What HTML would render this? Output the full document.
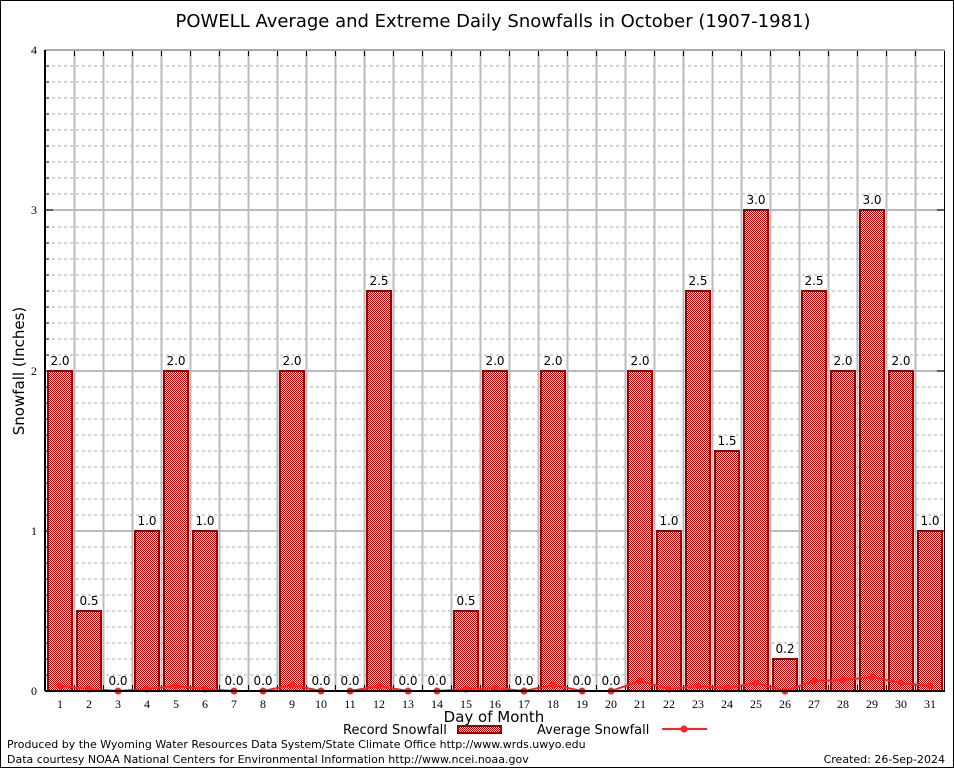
<!DOCTYPE html>
<html><head><meta charset="utf-8"><style>
body{margin:0;background:#fff}
svg{display:block}
.t{font-family:"DejaVu Sans","Liberation Sans",sans-serif}
.s{font-family:"Liberation Serif",serif;font-size:12px}
.v{font-family:"DejaVu Sans","Liberation Sans",sans-serif;font-size:12px;text-anchor:middle}
</style></head><body>
<svg width="954" height="768" viewBox="0 0 954 768" xmlns="http://www.w3.org/2000/svg">
<defs>
<pattern id="h" width="2" height="2" patternUnits="userSpaceOnUse">
<rect width="2" height="2" fill="#fff"/>
<rect x="0" y="0" width="1" height="1" fill="#c00000"/>
<rect x="1" y="1" width="1" height="1" fill="#c00000"/>
</pattern>
</defs>
<rect x="0.5" y="0.5" width="953" height="767" fill="#fff" stroke="#000"/>
<text x="493" y="27" class="t" font-size="18" text-anchor="middle">POWELL Average and Extreme Daily Snowfalls in October (1907-1981)</text>
<path stroke="#aaa" stroke-dasharray="3,3" fill="none" d="M46 675H945M46 659H945M46 643H945M46 627H945M46 611H945M46 595H945M46 579H945M46 563H945M46 547H945M46 515H945M46 499H945M46 483H945M46 467H945M46 451H945M46 435H945M46 419H945M46 403H945M46 387H945M46 355H945M46 339H945M46 323H945M46 307H945M46 291H945M46 275H945M46 259H945M46 243H945M46 227H945M46 194H945M46 178H945M46 162H945M46 146H945M46 130H945M46 114H945M46 98H945M46 82H945M46 66H945"/>
<path stroke="#000" fill="none" d="M45 675h4M45 659h4M45 643h4M45 627h4M45 611h4M45 595h4M45 579h4M45 563h4M45 547h4M45 515h4M45 499h4M45 483h4M45 467h4M45 451h4M45 435h4M45 419h4M45 403h4M45 387h4M45 355h4M45 339h4M45 323h4M45 307h4M45 291h4M45 275h4M45 259h4M45 243h4M45 227h4M45 194h4M45 178h4M45 162h4M45 146h4M45 130h4M45 114h4M45 98h4M45 82h4M45 66h4"/>
<path stroke="#bbb" stroke-width="2" fill="none" d="M46 531H945M46 371H945M46 210H945"/>
<path stroke="#bbb" stroke-width="2" fill="none" d="M74.5 50V691M103.5 50V691M132.5 50V691M161.5 50V691M190.5 50V691M219.5 50V691M248.5 50V691M277.5 50V691M306.5 50V691M335.5 50V691M364.5 50V691M393.5 50V691M422.5 50V691M451.5 50V691M480.5 50V691M509.5 50V691M538.5 50V691M567.5 50V691M596.5 50V691M625.5 50V691M654.5 50V691M683.5 50V691M712.5 50V691M741.5 50V691M770.5 50V691M799.5 50V691M828.5 50V691M857.5 50V691M886.5 50V691M915.5 50V691"/>
<path stroke="#000" fill="none" d="M74.5 50v6M103.5 50v6M132.5 50v6M161.5 50v6M190.5 50v6M219.5 50v6M248.5 50v6M277.5 50v6M306.5 50v6M335.5 50v6M364.5 50v6M393.5 50v6M422.5 50v6M451.5 50v6M480.5 50v6M509.5 50v6M538.5 50v6M567.5 50v6M596.5 50v6M625.5 50v6M654.5 50v6M683.5 50v6M712.5 50v6M741.5 50v6M770.5 50v6M799.5 50v6M828.5 50v6M857.5 50v6M886.5 50v6M915.5 50v6M74.5 691v-6M103.5 691v-6M132.5 691v-6M161.5 691v-6M190.5 691v-6M219.5 691v-6M248.5 691v-6M277.5 691v-6M306.5 691v-6M335.5 691v-6M364.5 691v-6M393.5 691v-6M422.5 691v-6M451.5 691v-6M480.5 691v-6M509.5 691v-6M538.5 691v-6M567.5 691v-6M596.5 691v-6M625.5 691v-6M654.5 691v-6M683.5 691v-6M712.5 691v-6M741.5 691v-6M770.5 691v-6M799.5 691v-6M828.5 691v-6M857.5 691v-6M886.5 691v-6M915.5 691v-6M45 531h8M45 371h8M45 210h8M945 531h-8M945 371h-8M945 210h-8"/>
<g fill="url(#h)" stroke="#a00000" stroke-width="2">
<rect x="48" y="371" width="24" height="320"/>
<rect x="77" y="611" width="24" height="80"/>
<rect x="135" y="531" width="24" height="160"/>
<rect x="164" y="371" width="24" height="320"/>
<rect x="193" y="531" width="24" height="160"/>
<rect x="280" y="371" width="24" height="320"/>
<rect x="367" y="291" width="24" height="400"/>
<rect x="454" y="611" width="24" height="80"/>
<rect x="483" y="371" width="24" height="320"/>
<rect x="541" y="371" width="24" height="320"/>
<rect x="628" y="371" width="24" height="320"/>
<rect x="657" y="531" width="24" height="160"/>
<rect x="686" y="291" width="24" height="400"/>
<rect x="715" y="451" width="24" height="240"/>
<rect x="744" y="210" width="24" height="481"/>
<rect x="773" y="659" width="24" height="32"/>
<rect x="802" y="291" width="24" height="400"/>
<rect x="831" y="371" width="24" height="320"/>
<rect x="860" y="210" width="24" height="481"/>
<rect x="889" y="371" width="24" height="320"/>
<rect x="918" y="531" width="24" height="160"/>
</g>
<g class="v">
<text x="60" y="365">2.0</text><text x="89" y="605">0.5</text><text x="118" y="685">0.0</text><text x="147" y="525">1.0</text><text x="176" y="365">2.0</text><text x="205" y="525">1.0</text><text x="234" y="685">0.0</text><text x="263" y="685">0.0</text><text x="292" y="365">2.0</text><text x="321" y="685">0.0</text><text x="350" y="685">0.0</text><text x="379" y="285">2.5</text><text x="408" y="685">0.0</text><text x="437" y="685">0.0</text><text x="466" y="605">0.5</text><text x="495" y="365">2.0</text><text x="524" y="685">0.0</text><text x="553" y="365">2.0</text><text x="582" y="685">0.0</text><text x="611" y="685">0.0</text><text x="640" y="365">2.0</text><text x="669" y="525">1.0</text><text x="698" y="285">2.5</text><text x="727" y="445">1.5</text><text x="756" y="204">3.0</text><text x="785" y="653">0.2</text><text x="814" y="285">2.5</text><text x="843" y="365">2.0</text><text x="872" y="204">3.0</text><text x="901" y="365">2.0</text><text x="930" y="525">1.0</text>
</g>
<polyline fill="none" stroke="#ff2020" stroke-width="2" points="60,686 89,689 118,691 147,689 176,686 205,689 234,691 263,691 292,685 321,691 350,691 379,686 408,691 437,691 466,689 495,688 524,691 553,685 582,691 611,691 640,681 669,689 698,686 727,688 756,683 785,691 814,681 843,680 872,677 901,683 930,686"/>
<g fill="#ff2020">
<circle cx="60" cy="686" r="3.5"/><circle cx="89" cy="689" r="3.5"/><circle cx="118" cy="691" r="3.5"/><circle cx="147" cy="689" r="3.5"/><circle cx="176" cy="686" r="3.5"/><circle cx="205" cy="689" r="3.5"/><circle cx="234" cy="691" r="3.5"/><circle cx="263" cy="691" r="3.5"/><circle cx="292" cy="685" r="3.5"/><circle cx="321" cy="691" r="3.5"/><circle cx="350" cy="691" r="3.5"/><circle cx="379" cy="686" r="3.5"/><circle cx="408" cy="691" r="3.5"/><circle cx="437" cy="691" r="3.5"/><circle cx="466" cy="689" r="3.5"/><circle cx="495" cy="688" r="3.5"/><circle cx="524" cy="691" r="3.5"/><circle cx="553" cy="685" r="3.5"/><circle cx="582" cy="691" r="3.5"/><circle cx="611" cy="691" r="3.5"/><circle cx="640" cy="681" r="3.5"/><circle cx="669" cy="689" r="3.5"/><circle cx="698" cy="686" r="3.5"/><circle cx="727" cy="688" r="3.5"/><circle cx="756" cy="683" r="3.5"/><circle cx="785" cy="691" r="3.5"/><circle cx="814" cy="681" r="3.5"/><circle cx="843" cy="680" r="3.5"/><circle cx="872" cy="677" r="3.5"/><circle cx="901" cy="683" r="3.5"/><circle cx="930" cy="686" r="3.5"/>
</g>
<rect x="45.5" y="50.5" width="899" height="640.5" fill="none" stroke="#000" stroke-width="1"/>
<path d="M45 50H945" stroke="#aaa" stroke-width="2"/>
<path d="M45 691H945M45 50V691" stroke="#000" stroke-width="2"/>
<g class="s" text-anchor="end" font-size="13">
<text x="37" y="695">0</text><text x="37" y="535">1</text><text x="37" y="375">2</text><text x="37" y="214">3</text><text x="37" y="54">4</text>
</g>
<g class="s" text-anchor="middle">
<text x="60" y="708">1</text><text x="89" y="708">2</text><text x="118" y="708">3</text><text x="147" y="708">4</text><text x="176" y="708">5</text><text x="205" y="708">6</text><text x="234" y="708">7</text><text x="263" y="708">8</text><text x="292" y="708">9</text><text x="321" y="708">10</text><text x="350" y="708">11</text><text x="379" y="708">12</text><text x="408" y="708">13</text><text x="437" y="708">14</text><text x="466" y="708">15</text><text x="495" y="708">16</text><text x="524" y="708">17</text><text x="553" y="708">18</text><text x="582" y="708">19</text><text x="611" y="708">20</text><text x="640" y="708">21</text><text x="669" y="708">22</text><text x="698" y="708">23</text><text x="727" y="708">24</text><text x="756" y="708">25</text><text x="785" y="708">26</text><text x="814" y="708">27</text><text x="843" y="708">28</text><text x="872" y="708">29</text><text x="901" y="708">30</text><text x="930" y="708">31</text>
</g>
<text x="494" y="722" class="t" font-size="15" text-anchor="middle">Day of Month</text>
<text transform="translate(24,371) rotate(-90)" class="t" font-size="15" text-anchor="middle">Snowfall (Inches)</text>
<text x="343" y="734" class="t" font-size="13">Record Snowfall</text>
<rect x="458" y="726" width="43" height="7" fill="url(#h)" stroke="#a00000" stroke-width="2"/>
<text x="537" y="734" class="t" font-size="13">Average Snowfall</text>
<path d="M662 729H707" stroke="#ff2020" stroke-width="2"/>
<circle cx="684" cy="729" r="3.5" fill="#ff2020"/>
<text x="7" y="748" class="t" font-size="11">Produced by the Wyoming Water Resources Data System/State Climate Office http://www.wrds.uwyo.edu</text>
<text x="7" y="763" class="t" font-size="11">Data courtesy NOAA National Centers for Environmental Information http://www.ncei.noaa.gov</text>
<text x="945" y="763" class="t" font-size="11" text-anchor="end">Created: 26-Sep-2024</text>
</svg>
</body></html>
